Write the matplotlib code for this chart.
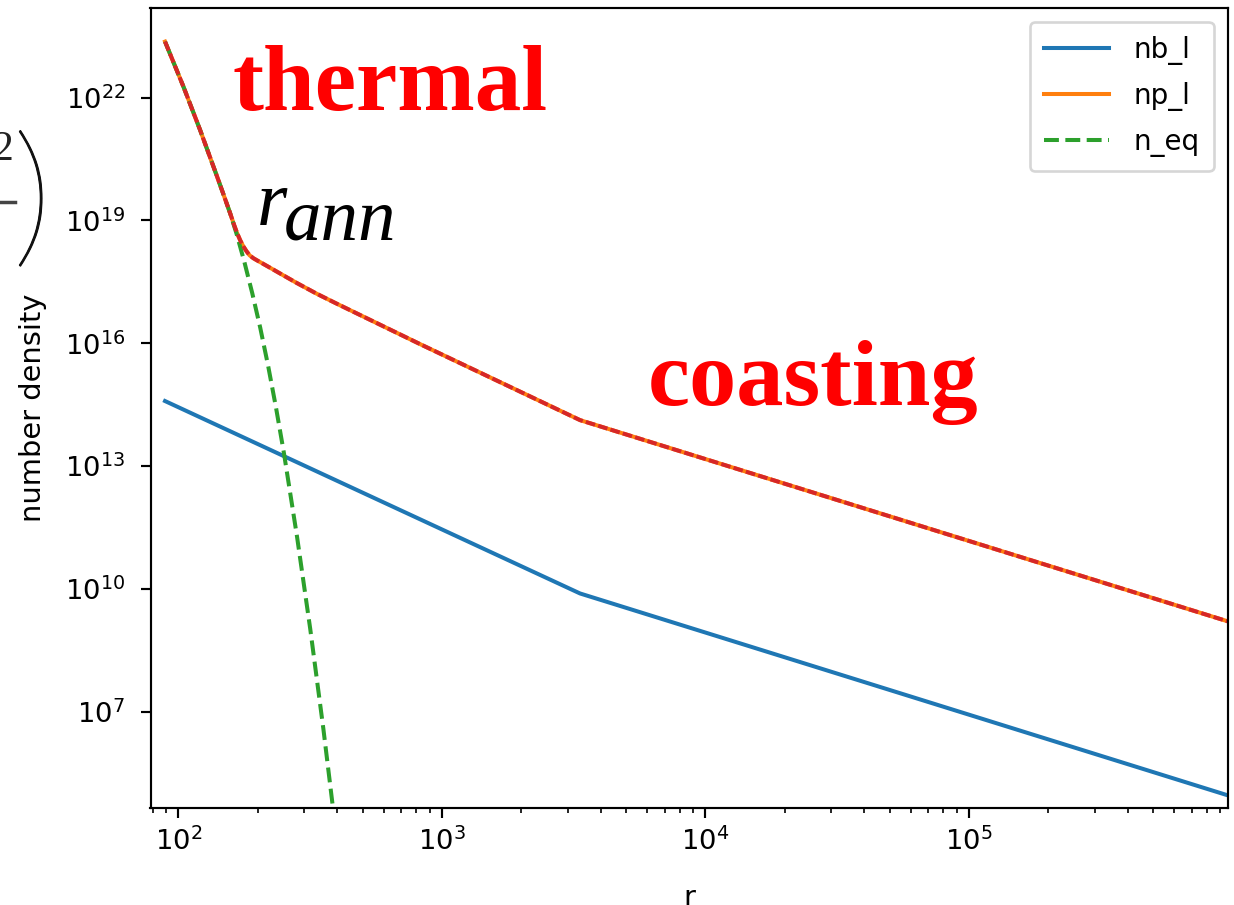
import matplotlib
matplotlib.use("Agg")
import matplotlib.pyplot as plt
import matplotlib.patheffects as pe
from matplotlib.lines import Line2D
from matplotlib.ticker import FixedLocator, NullLocator, LogLocator

# Baryon number density (left branch) vs radius
r_nb = [88.9, 3342, 9.594e5]
nb_l = [3.89e14, 7.76e9, 9.12e4]

# Pair number density (left branch) vs radius
r_np = [88.9, 104.4, 120.8, 139.6, 147.9, 157.0, 162.2, 166.7, 171.4, 176.2,
        181.1, 186.2, 192.3, 198.2, 213.8, 229.1, 250.0, 281.8, 335.0, 398.1,
        826.0, 3342, 9.594e5]
np_l = [2.34e23, 1.86e22, 1.62e21, 1.26e20, 4.47e19, 1.51e19, 8.13e18, 5.01e18,
        3.31e18, 2.34e18, 1.78e18, 1.41e18, 1.20e18, 1.07e18, 8.13e17, 6.31e17,
        4.57e17, 2.95e17, 1.62e17, 9.33e16, 9.55e15, 1.33e14, 1.62e9]

# Equilibrium pair density vs radius
r_eq = [88.9, 104.4, 120.8, 139.6, 147.9, 157.0, 166.0, 177.8, 190.5, 204.2,
        218.8, 234.4, 251.2, 281.8, 316.2, 354.8, 398.1]
n_eq = [2.34e23, 1.86e22, 1.62e21, 1.26e20, 4.47e19, 1.51e19, 4.79e18, 9.77e17,
        1.68e17, 2.43e16, 2.85e15, 2.72e14, 2.11e13, 1.88e11, 1.06e9, 3.76e6,
        8.41e3]

x_lim = (78.3, 9.594e5)
y_lim = (10 ** 4.65, 10 ** 24.19)
y_ticks = [1e7, 1e10, 1e13, 1e16, 1e19, 1e22]

W, H = 1234, 905
plt.rcParams.update({
    "font.size": 19.7,
    "axes.linewidth": 1.55,
    "lines.linewidth": 2.9,
    "xtick.major.size": 7.5, "xtick.major.width": 1.55,
    "ytick.major.size": 7.5, "ytick.major.width": 1.55,
    "xtick.minor.size": 3.9, "xtick.minor.width": 1.2,
    "xtick.major.pad": 6.8, "ytick.major.pad": 10.8,
    "patch.linewidth": 1.9,
})

fig = plt.figure(figsize=(W / 100, H / 100), dpi=100)
ax = fig.add_axes([150.5 / W, 1 - 808 / H, (1227.7 - 150.5) / W, (808 - 8) / H])

ax.plot(r_nb, nb_l, color="#1f77b4", label="nb_l")
ax.plot(r_np, np_l, color="#ff7f0e", label="np_l")
ax.plot(r_eq, n_eq, color="#2ca02c", ls="--", label="n_eq")
ax.plot(r_np, np_l, color="#d62728", ls=(0, (2.4, 0.8)))

ax.set_xscale("log")
ax.set_yscale("log")
ax.set_xlim(*x_lim)
ax.set_ylim(*y_lim)
ax.yaxis.set_major_locator(FixedLocator(y_ticks))
ax.yaxis.set_minor_locator(NullLocator())
ax.xaxis.set_minor_locator(LogLocator(base=10, subs=range(2, 10)))

ax.set_xlabel("r", fontsize=20.8, labelpad=20)
ax.set_ylabel("number density", fontsize=20.8, labelpad=13)

handles = ax.get_lines()[:3]
ax.legend(handles=handles, loc="upper right", fontsize=20,
          borderpad=0.5, handlelength=2.35, handletextpad=0.9,
          labelspacing=0.62)

# Regime annotations
fig.text(232 / W, 1 - 110 / H, "thermal", color="red", fontsize=67,
         fontweight="bold", family="Liberation Serif", va="baseline", ha="left")
fig.text(648 / W, 1 - 405 / H, "coasting", color="red", fontsize=68,
         fontweight="bold", family="Liberation Serif", va="baseline", ha="left")
fig.text(257 / W, 1 - 225 / H, "r", color="black", fontsize=56,
         family="Liberation Serif", style="italic", va="baseline", ha="left")
fig.text(284 / W, 1 - 240 / H, "ann", color="black", fontsize=54,
         family="Liberation Serif", style="italic", va="baseline", ha="left")

# Edge of the density-unit factor beside the axis label
fig.text(13 / W, 1 - 160 / H, "2", family="Liberation Serif", fontsize=30,
         ha="right", va="baseline", color="#222222")
fig.add_artist(Line2D([0, 15 / W], [1 - 202 / H] * 2, transform=fig.transFigure,
                      color="#444444", lw=2.5))
fig.text(52 / W, 1 - 205 / H, ")", family="Lato", fontweight="light",
         fontsize=112, ha="right", va="center", color="#111111",
         path_effects=[pe.withStroke(linewidth=0.8, foreground="#111111")])

fig.savefig("out.png", dpi=100)
